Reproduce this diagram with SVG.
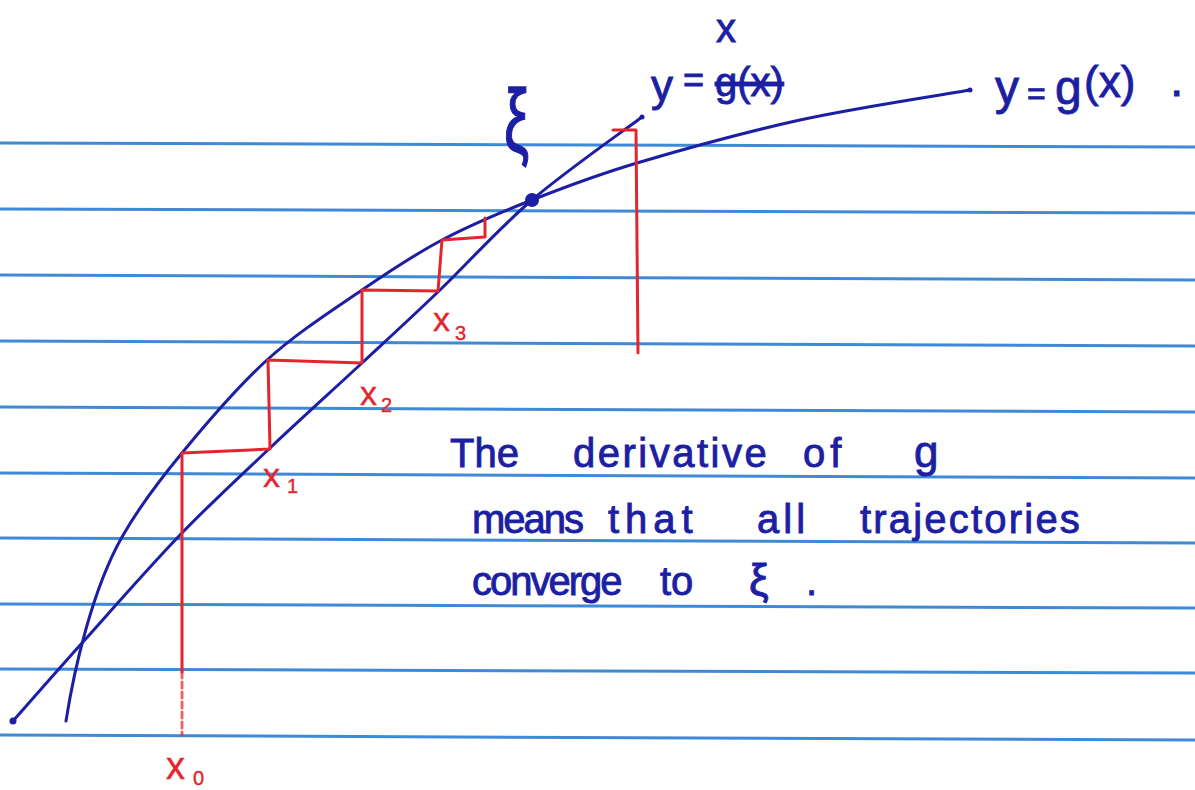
<svg xmlns="http://www.w3.org/2000/svg" width="1195" height="790" viewBox="0 0 1195 790">
  <style>
    .rule { stroke: #3f8ad6; stroke-width: 3; fill: none; stroke-linecap: round; }
    .ink { stroke: #1c1fa3; stroke-width: 3; fill: none; stroke-linecap: round; stroke-linejoin: round; }
    .red { stroke: #e3252d; stroke-width: 3; fill: none; stroke-linecap: round; stroke-linejoin: round; }
    .inktext { fill: #1c1fa3; stroke: #1c1fa3; stroke-width: 0.9; font-family: "Liberation Sans", Arial, sans-serif; }
    .redtext { fill: #e3252d; stroke: #e3252d; stroke-width: 0.4; font-family: "Liberation Sans", Arial, sans-serif; }
  </style>
  <rect x="0" y="0" width="1195" height="790" fill="#ffffff"/>

  <!-- ruled paper lines -->
  <g id="paper-lines">
    <path class="rule" d="M0,143 L1195,147"/>
    <path class="rule" d="M0,209 L1195,213"/>
    <path class="rule" d="M0,275 L1195,280"/>
    <path class="rule" d="M0,341 L1195,346"/>
    <path class="rule" d="M0,407 L1195,412"/>
    <path class="rule" d="M0,473 L1195,478"/>
    <path class="rule" d="M0,538 L1195,543"/>
    <path class="rule" d="M0,604 L1195,608"/>
    <path class="rule" d="M0,669 L1195,673"/>
    <path class="rule" d="M0,735 L1195,740"/>
  </g>

  <!-- curves -->
  <g id="connectors">
    <path id="curve-g" class="ink" d="M66,721 C74,670 92,590 122,537 C139,507 158,482 182,453 C206.2,423.5 237,387.2 267,360 C297,332.8 332.8,310 362,290 C391.2,270 413.7,255 442,240 C470.3,225 499.5,212.8 532,200 C564.5,187.2 592.3,176.3 637,163 C681.7,149.7 744.5,132.2 800,120 C855.5,107.8 941.7,95 970,90"/>
    <path id="line-x" class="ink" d="M13,721 C24.5,708 54.2,674 82,643 C109.8,612 148.7,567.5 180,535 C211.3,502.5 239.7,476.7 270,448 C300.3,419.3 333.7,389.3 362,363 C390.3,336.7 411.7,317.2 440,290 C468.3,262.8 498.3,228.8 532,200 C565.7,171.2 623.7,130.8 642,117"/>
    <circle cx="13" cy="721" r="3.5" fill="#1c1fa3"/>
    <circle cx="970" cy="90" r="2.5" fill="#1c1fa3"/>
    <circle cx="642" cy="117" r="2.5" fill="#1c1fa3"/>
    <!-- cobweb -->
    <path id="cobweb" class="red" d="M182,672 L182,453 L270,449 L268,360 L362,363 L362,290 L438,291 L442,240 L485,237 L485,218"/>
    <path class="red" d="M182,672 L182,735" stroke-dasharray="6 4" opacity="0.7"/>
    <path id="cobweb-right" class="red" d="M613,130 L636,130 L638,353"/>
  </g>

  <!-- fixed point -->
  <g id="fixed-point">
    <circle cx="532" cy="200" r="7" fill="#1c1fa3"/>
    <text class="inktext" font-size="56" transform="translate(504,152) scale(1,1.6)">ξ</text>
  </g>

  <!-- labels of the graphs -->
  <g id="label-identity">
    <text class="inktext" font-size="44"><tspan x="651" y="101">y</tspan> <tspan x="683" y="92" font-size="36">=</tspan> <tspan x="715" y="96" font-size="40" text-decoration="line-through">g(x)</tspan></text>
    <text class="inktext" x="716" y="42" font-size="40">x</text>
  </g>
  <g id="label-g">
    <text class="inktext" font-size="48"><tspan x="995" y="104">y</tspan> <tspan x="1027" y="104" font-size="32">=</tspan> <tspan x="1055" y="104">g</tspan><tspan x="1084" y="97" font-size="44">(x)</tspan> <tspan x="1170" y="96">.</tspan></text>
  </g>

  <!-- iterate labels -->
  <g id="label-x0"><text class="redtext" font-size="38"><tspan x="166" y="779">x</tspan><tspan x="193" y="785" font-size="20">0</tspan></text></g>
  <g id="label-x1"><text class="redtext" font-size="34"><tspan x="263" y="487">x</tspan><tspan x="287" y="493" font-size="20">1</tspan></text></g>
  <g id="label-x2"><text class="redtext" font-size="34"><tspan x="360" y="405">x</tspan><tspan x="381" y="412" font-size="20">2</tspan></text></g>
  <g id="label-x3"><text class="redtext" font-size="34"><tspan x="433" y="331">x</tspan><tspan x="455" y="340" font-size="20">3</tspan></text></g>

  <!-- note -->
  <g id="note">
    <text class="inktext" font-size="40"><tspan x="450" y="467">The</tspan> <tspan x="573" y="467" letter-spacing="2.5">derivative</tspan> <tspan x="803" y="467" letter-spacing="5">of</tspan> <tspan x="914" y="467" font-size="44">g</tspan></text>
    <text class="inktext" font-size="40"><tspan x="472" y="533" letter-spacing="-2">means</tspan> <tspan x="608" y="533" letter-spacing="6">that</tspan> <tspan x="757" y="533" letter-spacing="4">all</tspan> <tspan x="860" y="533" letter-spacing="2.2">trajectories</tspan></text>
    <text class="inktext" font-size="40"><tspan x="472" y="595" letter-spacing="-2">converge</tspan> <tspan x="660" y="595">to</tspan> <tspan x="749" y="595" font-size="44">ξ</tspan><tspan x="806" y="595">.</tspan></text>
  </g>
</svg>
